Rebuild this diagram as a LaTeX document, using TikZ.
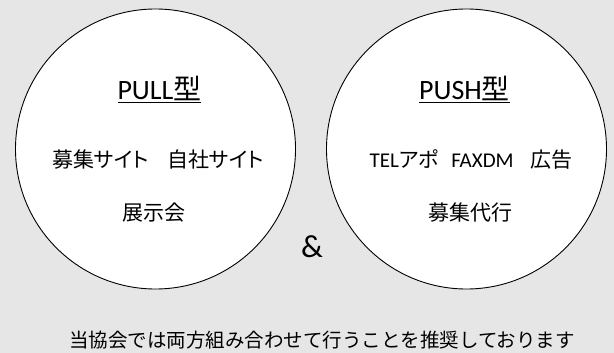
\documentclass[tikz,border=0pt]{standalone}
\usepackage{fontspec}
\setmainfont{Carlito}
\newfontfamily\jp{Noto Sans CJK JP}
\newfontfamily\jpp[RawFeature=+palt]{Noto Sans CJK JP}
\definecolor{bggray}{RGB}{230,230,230}
\tikzset{
  bubble/.style={circle, draw=black, line width=0.9pt, fill=white, inner sep=0pt, minimum size=280pt},
  heading/.style={inner sep=0pt, font=\fontsize{28}{32}\selectfont},
  item/.style={inner sep=0pt, font=\fontsize{21}{25}\selectfont},
  amp/.style={inner sep=0pt, font=\fontsize{32}{34}\selectfont},
  note/.style={inner sep=0pt, font=\fontsize{19.5}{24}\selectfont}
}
\begin{document}
\begin{tikzpicture}[x=1pt,y=-1pt]
\fill[bggray] (0,0) rectangle (614,353);
\useasboundingbox (0,0) rectangle (614,353);
\node[bubble] (pull) at (155.5,149) {};
\node[bubble] (push) at (466.5,149) {};
\node[heading] (pullt) at (159.5,89) {\underline{PULL{\jp 型}}};
\node[heading] (pusht) at (464.5,89) {\underline{PUSH{\jp 型}}};
\node[item] (pull1) at (158,160) {\jpp 募集サイト\hspace{0.9em}自社サイト};
\node[item] (pull2) at (154,213) {\jp 展示会};
\node[item] (push1) at (471,160) {TEL{\jpp アポ}\hspace{0.6em}FAXDM\hspace{0.8em}{\jp 広告}};
\node[item] (push2) at (470,213) {\jp 募集代行};
\node[amp] (and) at (312,247) {\&};
\node[note] (msg) at (322,340) {\jp 当協会では両方組み合わせて行うことを推奨しております};
\end{tikzpicture}
\end{document}
